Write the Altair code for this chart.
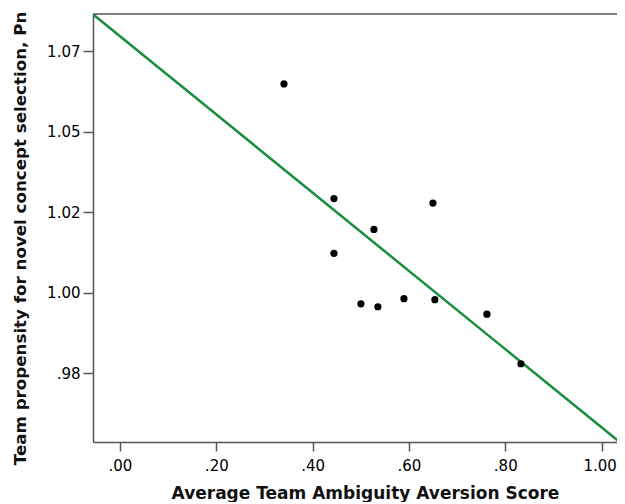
import json
import altair as alt
import pandas as pd

# Data
x_vals = [0.3405, 0.4443, 0.6498, 0.5273, 0.4443, 0.5003, 0.5356, 0.5896, 0.6539, 0.7619, 0.8325]
y_vals = [1.0648, 1.0292, 1.0278, 1.0196, 1.0122, 0.9965, 0.9956, 0.9981, 0.9978, 0.9933, 0.9779]

x_ticks = [0.0, 0.2, 0.4, 0.6, 0.8, 1.0]
x_tick_labels = [".00", ".20", ".40", ".60", ".80", "1.00"]
y_ticks = [0.975, 1.0, 1.025, 1.05, 1.075]
y_tick_labels = [".98", "1.00", "1.02", "1.05", "1.07"]

x_domain = [-0.056, 1.032]
y_domain = [0.9536, 1.0865]
fit_extent = [-0.056, 1.048]

x_title = "Average Team Ambiguity Aversion Score"
y_title = "Team propensity for novel concept selection, Pn"

df = pd.DataFrame({"x": x_vals, "y": y_vals})

AX = "#555555"
GREEN = "#1a8c3e"
FONT = "DejaVu Sans"

x_label_expr = f"{json.dumps(x_tick_labels)}[round(datum.value / 0.2)]"
y_label_expr = f"{json.dumps(y_tick_labels)}[round((datum.value - 0.975) / 0.025)]"

x_enc = alt.X(
    "x:Q",
    scale=alt.Scale(domain=x_domain, nice=False, zero=False),
    axis=alt.Axis(
        values=x_ticks, labelExpr=x_label_expr, title=x_title, grid=False,
        tickSize=9, tickWidth=1.5, tickColor=AX, domainColor=AX, domainWidth=1.5,
        labelPadding=7, labelFont=FONT, labelFontSize=15, labelColor="black",
        labelOffset={"condition": {"test": "datum.value > 0.9", "value": -2}, "value": 0},
        titleFont=FONT, titleFontSize=17, titleFontWeight="bold", titleColor="#111111",
        titleX=272, titleY=56, titleBaseline="alphabetic", titleAnchor="middle",
    ),
)
y_enc = alt.Y(
    "y:Q",
    scale=alt.Scale(domain=y_domain, nice=False, zero=False),
    axis=alt.Axis(
        values=y_ticks, labelExpr=y_label_expr, title=y_title, grid=False,
        tickSize=10, tickWidth=1.5, tickColor=AX, domainColor=AX, domainWidth=1.5,
        labelPadding=3, labelFont=FONT, labelFontSize=15, labelColor="black",
        titleFont=FONT, titleFontSize=16.7, titleFontWeight="bold", titleColor="#111111",
        titleX=-68, titleY=224, titleBaseline="alphabetic", titleAngle=-90,
    ),
)

line = (
    alt.Chart(df)
    .transform_regression("x", "y", extent=fit_extent)
    .mark_line(color=GREEN, strokeWidth=2.5, clip=True)
    .encode(x=x_enc, y=y_enc)
)
points = alt.Chart(df).mark_circle(size=52, color="black", opacity=1).encode(x="x:Q", y="y:Q")
top_border = (
    alt.Chart(pd.DataFrame({"a": [0]}))
    .mark_rule(color=AX, strokeWidth=1.5)
    .encode(y=alt.value(0))
)

chart = (
    alt.layer(line, points, top_border)
    .properties(
        width=524, height=428,
        padding={"left": 85, "top": 6, "right": 0, "bottom": 60},
        autosize="none", background="white",
    )
    .configure_view(strokeWidth=0)
)

chart.save("out.html", embed_options={"renderer": "svg", "actions": False})
